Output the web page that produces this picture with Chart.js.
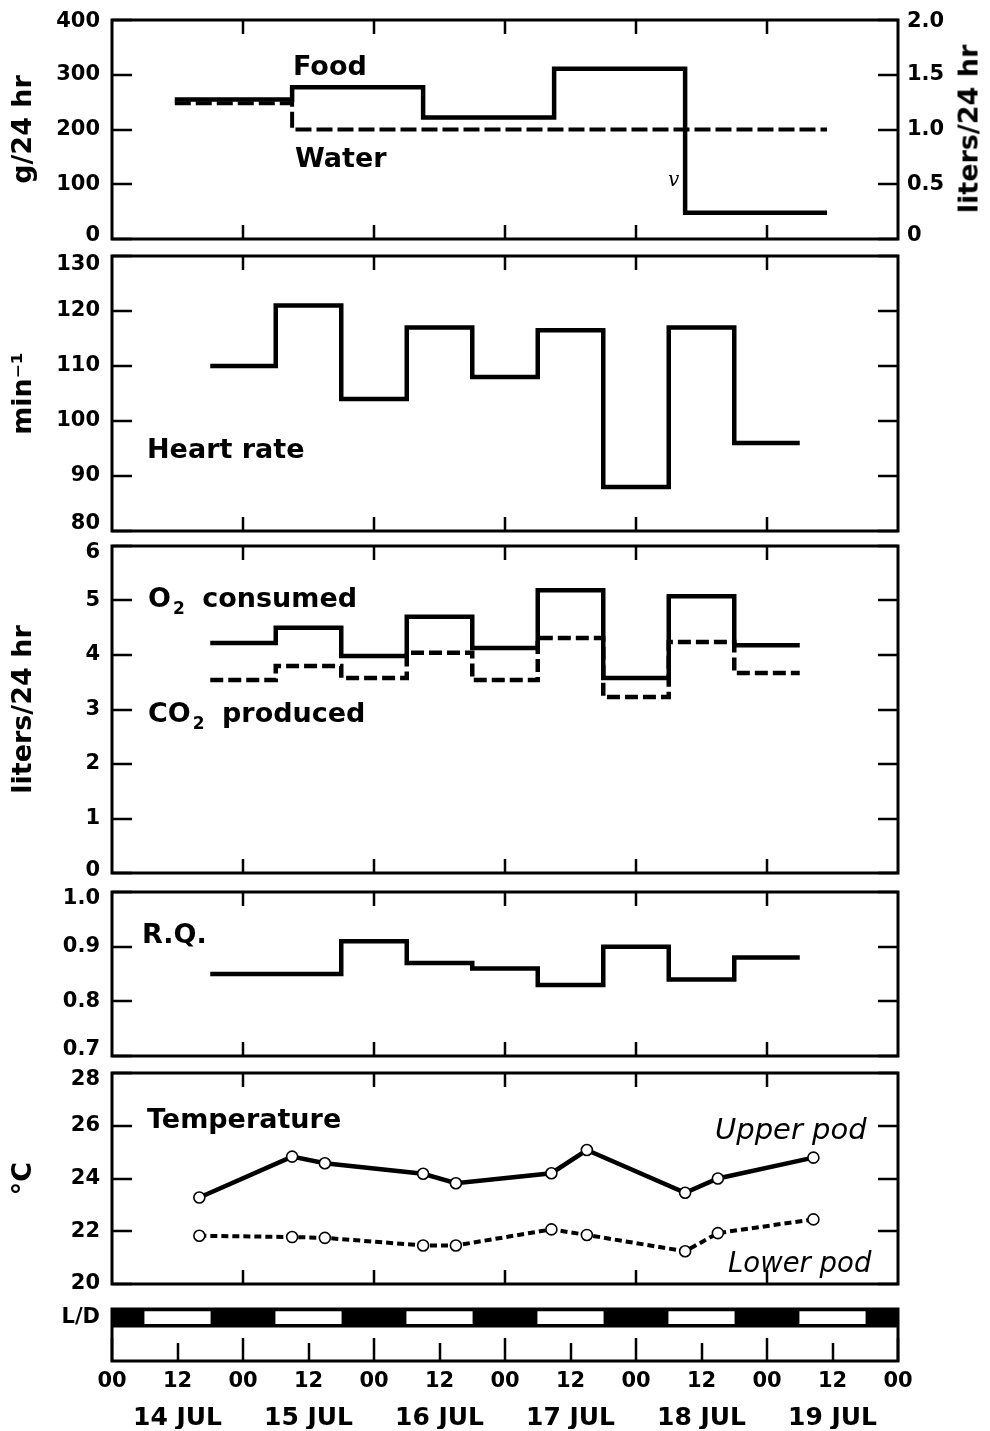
<!DOCTYPE html>
<html>
<head>
<meta charset="utf-8">
<title>Food, water, heart rate, gas exchange, R.Q. and temperature, 14–19 JUL</title>
<script src="https://cdn.jsdelivr.net/npm/chart.js@4.4.1/dist/chart.umd.min.js"></script>
<style>
html,body{margin:0;padding:0;background:#fff;}
#wrap{position:relative;width:990px;height:1431px;overflow:hidden;background:#fff;}
#wrap canvas{position:absolute;left:0;}
.lbl{position:absolute;font-family:'DejaVu Sans',sans-serif;font-weight:bold;color:#000;white-space:nowrap;line-height:1;}
.lbl .sub{font-size:17px;position:relative;top:7px;margin:0 8px 0 2px;}
.lbl.it{font-style:italic;font-weight:normal;}
</style>
</head>
<body>
<div id="wrap">
<canvas id="c1" width="990" height="279" style="top:-10px"></canvas>
<canvas id="c2" width="990" height="335" style="top:226px"></canvas>
<canvas id="c3" width="990" height="387" style="top:516px"></canvas>
<canvas id="c4" width="990" height="224" style="top:862px"></canvas>
<canvas id="c5" width="990" height="271" style="top:1043px"></canvas>
<canvas id="c6" width="990" height="152" style="top:1279px"></canvas>
</div>
<script>
// ---------------- DATA ----------------
const hourTicks  = [0,12,24,36,48,60,72,84,96,108,120,132,144];
const hourLabels = ['00','12','00','12','00','12','00','12','00','12','00','12','00'];
const dayCenters = [12,36,60,84,108,132];
const dayLabels  = ['14 JUL','15 JUL','16 JUL','17 JUL','18 JUL','19 JUL'];

// food (g/24 hr) and water (liters/24 hr): step boundaries in hours from 14 JUL 00
const foodEdges   = [11.5,33,57,81,105,131];
const foodValues  = [255,277,222,311,48];
const waterEdges  = [11.5,33,131];
const waterValues = [1.24,1.0];

// 12-h periods (18-06 dark, 06-18 light)
const periodEdges = [18,30,42,54,66,78,90,102,114,126];
const heartRate   = [110,121,104,117,108,116.5,88,117,96];
const o2Consumed  = [4.22,4.50,3.98,4.70,4.13,5.19,3.58,5.08,4.18];
const co2Produced = [3.54,3.80,3.58,4.04,3.54,4.31,3.23,4.24,3.67];
const rqValues    = [0.85,0.85,0.91,0.87,0.86,0.83,0.90,0.84,0.88];

// temperature (°C)
const tempHours = [16,33,39,57,63,80.5,87,105,111,128.5];
const upperPod  = [23.28,24.83,24.58,24.18,23.82,24.20,25.08,23.46,24.00,24.79];
const lowerPod  = [21.83,21.78,21.75,21.46,21.46,22.07,21.86,21.24,21.93,22.45];

// light / dark schedule
const lightOn  = [6,30,54,78,102,126];
const lightOff = [18,42,66,90,114,138];

// ---------------- HELPERS ----------------
const FAM = "'DejaVu Sans', sans-serif";
const TICK_FONT  = {family:FAM, size:21, weight:'bold'};
const TITLE_FONT = {family:FAM, size:27, weight:'bold'};
Chart.defaults.color = '#000';
Chart.defaults.font.family = FAM;

const midnights = hourTicks.filter(h => h % 24 === 0 && h > 0 && h < 144);

function stepPoints(edges, values){
  const pts = values.map((v,i)=>({x:edges[i], y:v}));
  pts.push({x:edges[values.length], y:values[values.length-1]});
  return pts;
}
function seriesPoints(xs, ys){ return xs.map((x,i)=>({x, y:ys[i]})); }

const framePlugin = {
  id:'frame',
  afterDatasetsDraw(chart){
    const {ctx, chartArea:a} = chart;
    const ys = chart.scales.y, xs = chart.scales.x;
    ctx.save();
    ctx.strokeStyle = '#000';
    ctx.lineWidth = 2.5;
    ys.ticks.forEach(t=>{
      const p = Math.round(ys.getPixelForValue(t.value));
      ctx.beginPath();
      ctx.moveTo(a.left, p); ctx.lineTo(a.left+20, p);
      ctx.moveTo(a.right, p); ctx.lineTo(a.right-20, p);
      ctx.stroke();
    });
    midnights.forEach(h=>{
      const p = Math.round(xs.getPixelForValue(h));
      ctx.beginPath();
      ctx.moveTo(p, a.top); ctx.lineTo(p, a.top+14);
      ctx.moveTo(p, a.bottom); ctx.lineTo(p, a.bottom-14);
      ctx.stroke();
    });
    ctx.lineWidth = 3;
    ctx.strokeRect(a.left, a.top, a.right-a.left, a.bottom-a.top);
    ctx.restore();
  }
};

// tick label helpers: the extreme labels are nudged inside the frame, as in the original
const near = (a, b) => Math.abs(a - b) < 1e-9;
function nudgedFormat(fmt, min, max, nTop, nBot){
  return function(v){
    const s = fmt ? fmt(v) : String(v);
    if (nTop && near(v, max)) return ['', s];
    if (nBot && near(v, min)) return [s, ''];
    return s;
  };
}
function nudgedFont(min, max, nTop, nBot){
  return function(ctx){
    const t = ctx && ctx.tick;
    if (!t) return TICK_FONT;
    if (nTop && near(t.value, max)) return Object.assign({}, TICK_FONT, {lineHeight: (2*nTop) + 'px'});
    if (nBot && near(t.value, min)) return Object.assign({}, TICK_FONT, {lineHeight: (2*nBot) + 'px'});
    return TICK_FONT;
  };
}

function xHidden(){ return {type:'linear', min:0, max:144, display:false}; }
function yLeft(min, max, step, title, fmt, nTop, nBot){
  return {
    type:'linear', position:'left', min, max,
    ticks:{stepSize:step, font: nudgedFont(min, max, nTop, nBot), color:'#000', padding:12,
           callback: nudgedFormat(fmt, min, max, nTop, nBot)},
    grid:{display:false, drawTicks:false}, border:{display:false},
    title: title ? {display:true, text:title, font:TITLE_FONT, color:'#000', padding:{top:8, bottom:0}} : {display:false},
    afterFit(s){ s.width = 112; }
  };
}
function yRight(min, max, step, fmt, nTop, nBot){
  return {
    type:'linear', position:'right', min, max,
    ticks:{stepSize:step, font: nudgedFont(min, max, nTop, nBot), color:'#000', padding:9,
           callback: nudgedFormat(fmt, min, max, nTop, nBot)},
    grid:{display:false, drawTicks:false}, border:{display:false},
    afterFit(s){ s.width = 92; }
  };
}
function stepLine(label, data, dash, axis, width){
  return {label, data, yAxisID: axis || 'y', borderColor:'#000', backgroundColor:'#000',
    borderWidth: width || 4.5, borderDash: dash || [], stepped:'before', pointRadius:0,
    fill:false, borderJoinStyle:'miter', borderCapStyle:'butt'};
}
function pointLine(label, data, dash, width){
  return {label, data, borderColor:'#000', borderWidth: width || 4.5, borderDash: dash || [],
    pointRadius:5.5, pointBackgroundColor:'#fff', pointBorderColor:'#000', pointBorderWidth:1.6,
    tension:0, fill:false};
}
function panel(id, datasets, scales, padRight){
  return new Chart(document.getElementById(id), {
    type:'line',
    data:{datasets},
    options:{
      responsive:false, animation:false, devicePixelRatio:1, events:[],
      layout:{padding:{top:30, bottom:30, left:0, right:padRight}},
      plugins:{legend:{display:false}, tooltip:{enabled:false}},
      scales
    },
    plugins:[framePlugin]
  });
}

// ---------------- PANELS ----------------
panel('c1', [
  stepLine('Food', stepPoints(foodEdges, foodValues)),
  stepLine('Water', stepPoints(waterEdges, waterValues), [16,5], 'y2', 4)
], {
  x: xHidden(),
  y: yLeft(0, 400, 100, 'g/24 hr', null, 2, 3),
  y2: yRight(0, 2, 0.5, v => v === 0 ? '0' : v.toFixed(1), 2, 3)
}, 0);

panel('c2', [
  stepLine('Heart rate', stepPoints(periodEdges, heartRate))
], {x: xHidden(), y: yLeft(80, 130, 10, 'min\u207B\u00B9', null, 9, 7)}, 92);

panel('c3', [
  stepLine('O2 consumed', stepPoints(periodEdges, o2Consumed)),
  stepLine('CO2 produced', stepPoints(periodEdges, co2Produced), [13,5])
], {x: xHidden(), y: yLeft(0, 6, 1, 'liters/24 hr', null, 7, 2)}, 92);

panel('c4', [
  stepLine('R.Q.', stepPoints(periodEdges, rqValues))
], {x: xHidden(), y: yLeft(0.7, 1.0, 0.1, null, v => v.toFixed(1), 7, 6)}, 92);

panel('c5', [
  pointLine('Upper pod', seriesPoints(tempHours, upperPod)),
  pointLine('Lower pod', seriesPoints(tempHours, lowerPod), [7,4], 4)
], {x: xHidden(), y: yLeft(20, 28, 2, '\u00B0C', null, 7, 0)}, 92);

// ---------------- L/D BAR + TIME AXIS ----------------
const ldPlugin = {
  id:'ldbox',
  afterDraw(chart){
    const {ctx, chartArea:a} = chart;
    const xs = chart.scales.x;
    ctx.save();
    ctx.strokeStyle = '#000';
    ctx.lineWidth = 2.5;
    hourTicks.forEach(h=>{
      const p = Math.round(xs.getPixelForValue(h));
      const len = h % 24 === 0 ? 23 : 18;
      ctx.beginPath(); ctx.moveTo(p, a.bottom); ctx.lineTo(p, a.bottom-len); ctx.stroke();
    });
    ctx.lineWidth = 3;
    ctx.strokeRect(a.left, a.top, a.right-a.left, a.bottom-a.top);
    ctx.restore();
  }
};
new Chart(document.getElementById('c6'), {
  type:'bar',
  data:{
    labels:['L/D','',''],
    datasets:[
      {label:'Light', data: lightOn.map((s,i)=>({x:[s, lightOff[i]], y:'L/D'})),
       backgroundColor:'#fff', borderWidth:0, barThickness:12, grouped:false, order:0},
      {label:'Dark', data:[{x:[hourTicks[0], hourTicks[hourTicks.length-1]], y:'L/D'}],
       backgroundColor:'#000', borderWidth:0, barThickness:19, grouped:false, order:1}
    ]
  },
  options:{
    indexAxis:'y', responsive:false, animation:false, devicePixelRatio:1, events:[],
    layout:{padding:{top:30, right:92, bottom:2, left:0}},
    plugins:{legend:{display:false}, tooltip:{enabled:false}},
    scales:{
      x:{type:'linear', position:'bottom', min:0, max:144, weight:0,
         grid:{display:false, drawTicks:false}, border:{display:false},
         ticks:{font:TICK_FONT, color:'#000', padding:8, autoSkip:false, maxRotation:0, minRotation:0,
                callback:(v,i)=>hourLabels[i]},
         afterBuildTicks(s){ s.ticks = hourTicks.map(v=>({value:v})); },
         afterFit(s){ s.height = 34; }},
      x2:{type:'linear', position:'bottom', min:0, max:144, weight:1,
         grid:{display:false, drawTicks:false}, border:{display:false},
         ticks:{font:{family:FAM, size:25, weight:'bold'}, color:'#000', padding:8, autoSkip:false, maxRotation:0, minRotation:0,
                callback:(v,i)=>dayLabels[i]},
         afterBuildTicks(s){ s.ticks = dayCenters.map(v=>({value:v})); },
         afterFit(s){ s.height = 34; }},
      y:{type:'category', position:'left',
         grid:{display:false, drawTicks:false}, border:{display:false},
         ticks:{font:TICK_FONT, color:'#000', padding:12},
         afterFit(s){ s.width = 112; }}
    }
  },
  plugins:[ldPlugin]
});

// ---------------- TEXT LABELS ----------------
const wrap = document.getElementById('wrap');
function label(html, left, baseline, size, cls){
  const d = document.createElement('div');
  d.className = 'lbl' + (cls ? ' ' + cls : '');
  d.innerHTML = html;
  d.style.left = left + 'px';
  d.style.top = (baseline - 0.846*size) + 'px';
  d.style.fontSize = size + 'px';
  wrap.appendChild(d);
  return d;
}
label('Food', 293, 75, 27);
label('Water', 295, 167, 27);
const vmark = label('v', 668, 186, 20, 'it');
vmark.style.fontFamily = "'DejaVu Serif', serif";
label('Heart rate', 147, 458, 27);
label('O<span class="sub">2</span> consumed', 148, 607, 27);
label('CO<span class="sub">2</span> produced', 148, 722, 27);
label('R.Q.', 142, 943, 27);
label('Temperature', 147, 1128, 27);
label('Upper pod', 715, 1140, 29, 'it');
label('Lower pod', 728, 1272, 27.5, 'it');
// right-hand axis title (reads bottom to top)
const rt = document.createElement('div');
rt.className = 'lbl';
rt.textContent = 'liters/24 hr';
rt.style.fontSize = '27px';
rt.style.left = '968px';
rt.style.top = '129px';
rt.style.transform = 'translate(-50%,-50%) rotate(-90deg)';
wrap.appendChild(rt);
</script>
</body>
</html>
